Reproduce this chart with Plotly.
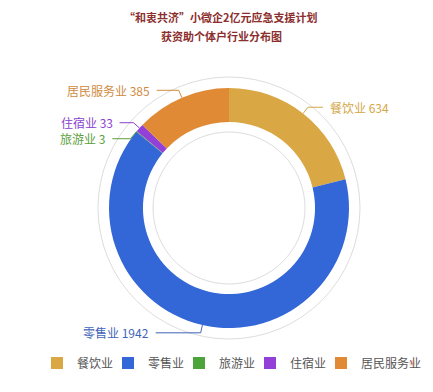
import math
import plotly.graph_objects as go

# ---- data ----
categories = ["餐饮业", "零售业", "旅游业", "住宿业", "居民服务业"]
values = [634, 1942, 3, 33, 385]
colors = ["#D9A845", "#3366D6", "#4DA43A", "#9340D8", "#E08A36"]
label_colors = ["#D4A848", "#3F64B8", "#5A9E3A", "#8A3FD0", "#D08A40"]
title_lines = ["“和衷共济”小微企2亿元应急支援计划", "获资助个体户行业分布图"]

# ---- layout constants (pixels) ----
W, H = 433, 392
CX, CY, R = 229, 208, 120
HOLE = 0.717
LEN1 = 8
LEAD2 = [15, 45, 18, 14, 22]


def px(x):
    return x / W


def py(y):
    return 1 - y / H


fig = go.Figure()
fig.add_trace(go.Pie(
    labels=categories, values=values, sort=False, direction="clockwise",
    rotation=0, hole=HOLE, textinfo="none", hoverinfo="label+value",
    marker=dict(colors=colors, line=dict(width=0)),
    domain=dict(x=[px(CX - R), px(CX + R)], y=[py(CY + R), py(CY - R)]),
))
# invisible spacer entry so the last legend label is not clipped
fig.add_trace(go.Scatter(x=[None], y=[None], mode="markers", name=" ",
                         marker=dict(opacity=0), hoverinfo="skip", showlegend=True))

# label geometry computed from data
total = sum(values)
cum = 0
items = []
for i, v in enumerate(values):
    mid = (cum + v / 2) / total * 2 * math.pi
    cum += v
    dx, dy = math.sin(mid), -math.cos(mid)
    p0 = (CX + R * dx, CY + R * dy)
    p1 = (CX + (R + LEN1) * dx, CY + (R + LEN1) * dy)
    side = 1 if dx >= 0 else -1
    items.append(dict(i=i, p0=p0, p1=list(p1), side=side))

# simple collision avoidance per side
for side in (1, -1):
    grp = sorted([it for it in items if it["side"] == side], key=lambda it: it["p1"][1])
    for a, b in zip(grp, grp[1:]):
        if b["p1"][1] - a["p1"][1] < 16:
            b["p1"][1] = a["p1"][1] + 16

shapes = []
annotations = []
for it in items:
    i = it["i"]
    p0, p1, side = it["p0"], it["p1"], it["side"]
    p2 = (p1[0] + side * LEAD2[i], p1[1])
    path = f"M {px(p0[0])},{py(p0[1])} L {px(p1[0])},{py(p1[1])} L {px(p2[0])},{py(p2[1])}"
    shapes.append(dict(type="path", xref="paper", yref="paper", path=path,
                       line=dict(color=label_colors[i], width=1)))
    annotations.append(dict(
        x=px(p2[0] + side * 5), y=py(p2[1]), xref="paper", yref="paper",
        text=f"{categories[i]} {values[i]}", showarrow=False,
        xanchor="left" if side > 0 else "right", yanchor="middle",
        font=dict(size=12, color=label_colors[i])))

# decorative rings
for rr in (131, 76):
    shapes.append(dict(type="circle", xref="paper", yref="paper",
                       x0=px(CX - rr), x1=px(CX + rr), y0=py(CY + rr), y1=py(CY - rr),
                       line=dict(color="#DDDDDD", width=1), layer="below"))

for k, t in enumerate(title_lines):
    annotations.append(dict(
        x=px(221), y=py(17 + 19 * k), xref="paper", yref="paper", text=f"<b>{t}</b>",
        showarrow=False, xanchor="center", yanchor="middle",
        font=dict(size=11, color="#8B2E2E")))

fig.update_layout(
    width=W, height=H, margin=dict(l=0, r=0, t=0, b=0, autoexpand=False),
    paper_bgcolor="white", plot_bgcolor="white",
    font=dict(family="Noto Sans CJK SC, sans-serif"),
    xaxis=dict(visible=False), yaxis=dict(visible=False),
    shapes=shapes, annotations=annotations,
    showlegend=True,
    legend=dict(orientation="h", x=px(37), y=py(363), xanchor="left", yanchor="middle",
                entrywidth=26, entrywidthmode="pixels",
                font=dict(size=12, color="#555555"), traceorder="normal"),
)

fig.write_html("out.html")
